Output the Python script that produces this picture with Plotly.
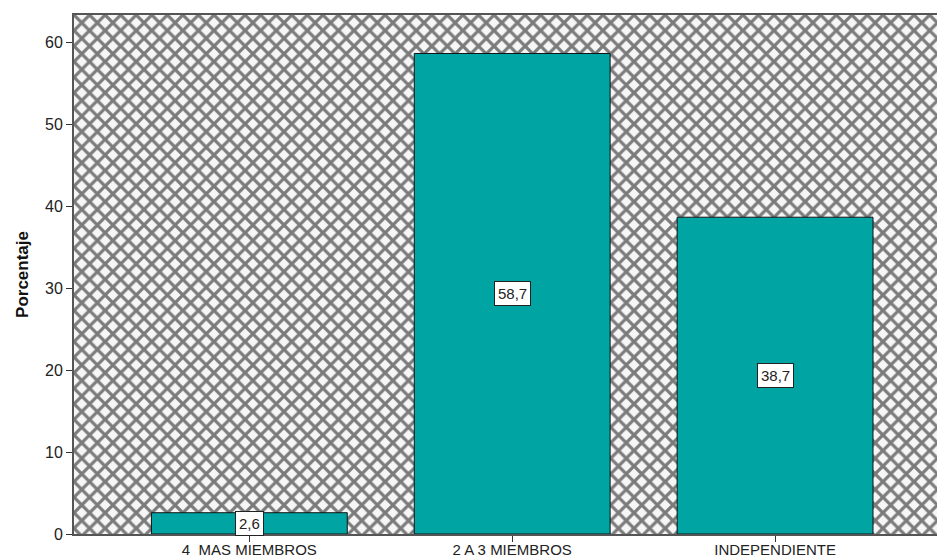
import plotly.graph_objects as go

# Porcentaje por tipo de hogar
categorias = ["4  MAS MIEMBROS", "2 A 3 MIEMBROS", "INDEPENDIENTE"]
porcentajes = [2.6, 58.7, 38.7]
y_ticks = [0, 10, 20, 30, 40, 50, 60]

Y_MAX = 63.4
X_MIN, X_MAX = -0.667, 2.616
posiciones = list(range(len(categorias)))

FONT = "Liberation Sans, Arial"

fig = go.Figure()

# cross-hatched panel behind the bars
fig.add_trace(go.Bar(
    x=[(X_MIN + X_MAX) / 2], y=[Y_MAX], width=[X_MAX - X_MIN],
    marker=dict(color="#f6f6f6", line=dict(width=0),
                pattern=dict(shape="x", fgcolor="#000000", bgcolor="#f6f6f6",
                             size=11, solidity=0.5)),
    hoverinfo="skip", showlegend=False,
))

fig.add_trace(go.Bar(
    x=posiciones, y=porcentajes, width=0.745,
    marker=dict(color="#00a5a3", line=dict(color="#111111", width=1)),
    showlegend=False,
))

for xi, v in zip(posiciones, porcentajes):
    fig.add_annotation(
        x=xi, y=v / 2, text=f"{v:.1f}".replace(".", ","), showarrow=False,
        font=dict(family=FONT, size=15, color="#222222"),
        bgcolor="white", bordercolor="#222222", borderwidth=1, borderpad=3,
    )

fig.update_layout(
    width=937, height=557,
    margin=dict(l=74, r=0, t=15, b=23),
    barmode="overlay",
    plot_bgcolor="white", paper_bgcolor="white",
    font=dict(family=FONT, size=15, color="#222222"),
)
fig.update_xaxes(
    range=[X_MIN, X_MAX], tickvals=posiciones, ticktext=categorias,
    automargin=False,
    showgrid=False, zeroline=False,
    showline=True, mirror=True, linecolor="#555555", linewidth=2,
    ticks="outside", ticklen=6, tickcolor="#333333", tickwidth=1,
    ticklabelstandoff=-5,
    tickfont=dict(family=FONT, size=15, color="#222222"),
)
fig.update_yaxes(
    range=[0, Y_MAX], tickvals=y_ticks, showgrid=False, zeroline=False,
    automargin=False,
    showline=True, linecolor="#555555", linewidth=2,
    ticks="outside", ticklen=6, tickcolor="#333333", tickwidth=1,
    tickfont=dict(family=FONT, size=16, color="#222222"),
    title=dict(text="<b>Porcentaje</b>", font=dict(family=FONT, size=17, color="#111111"),
               standoff=12),
)

fig.write_html("out.html")
